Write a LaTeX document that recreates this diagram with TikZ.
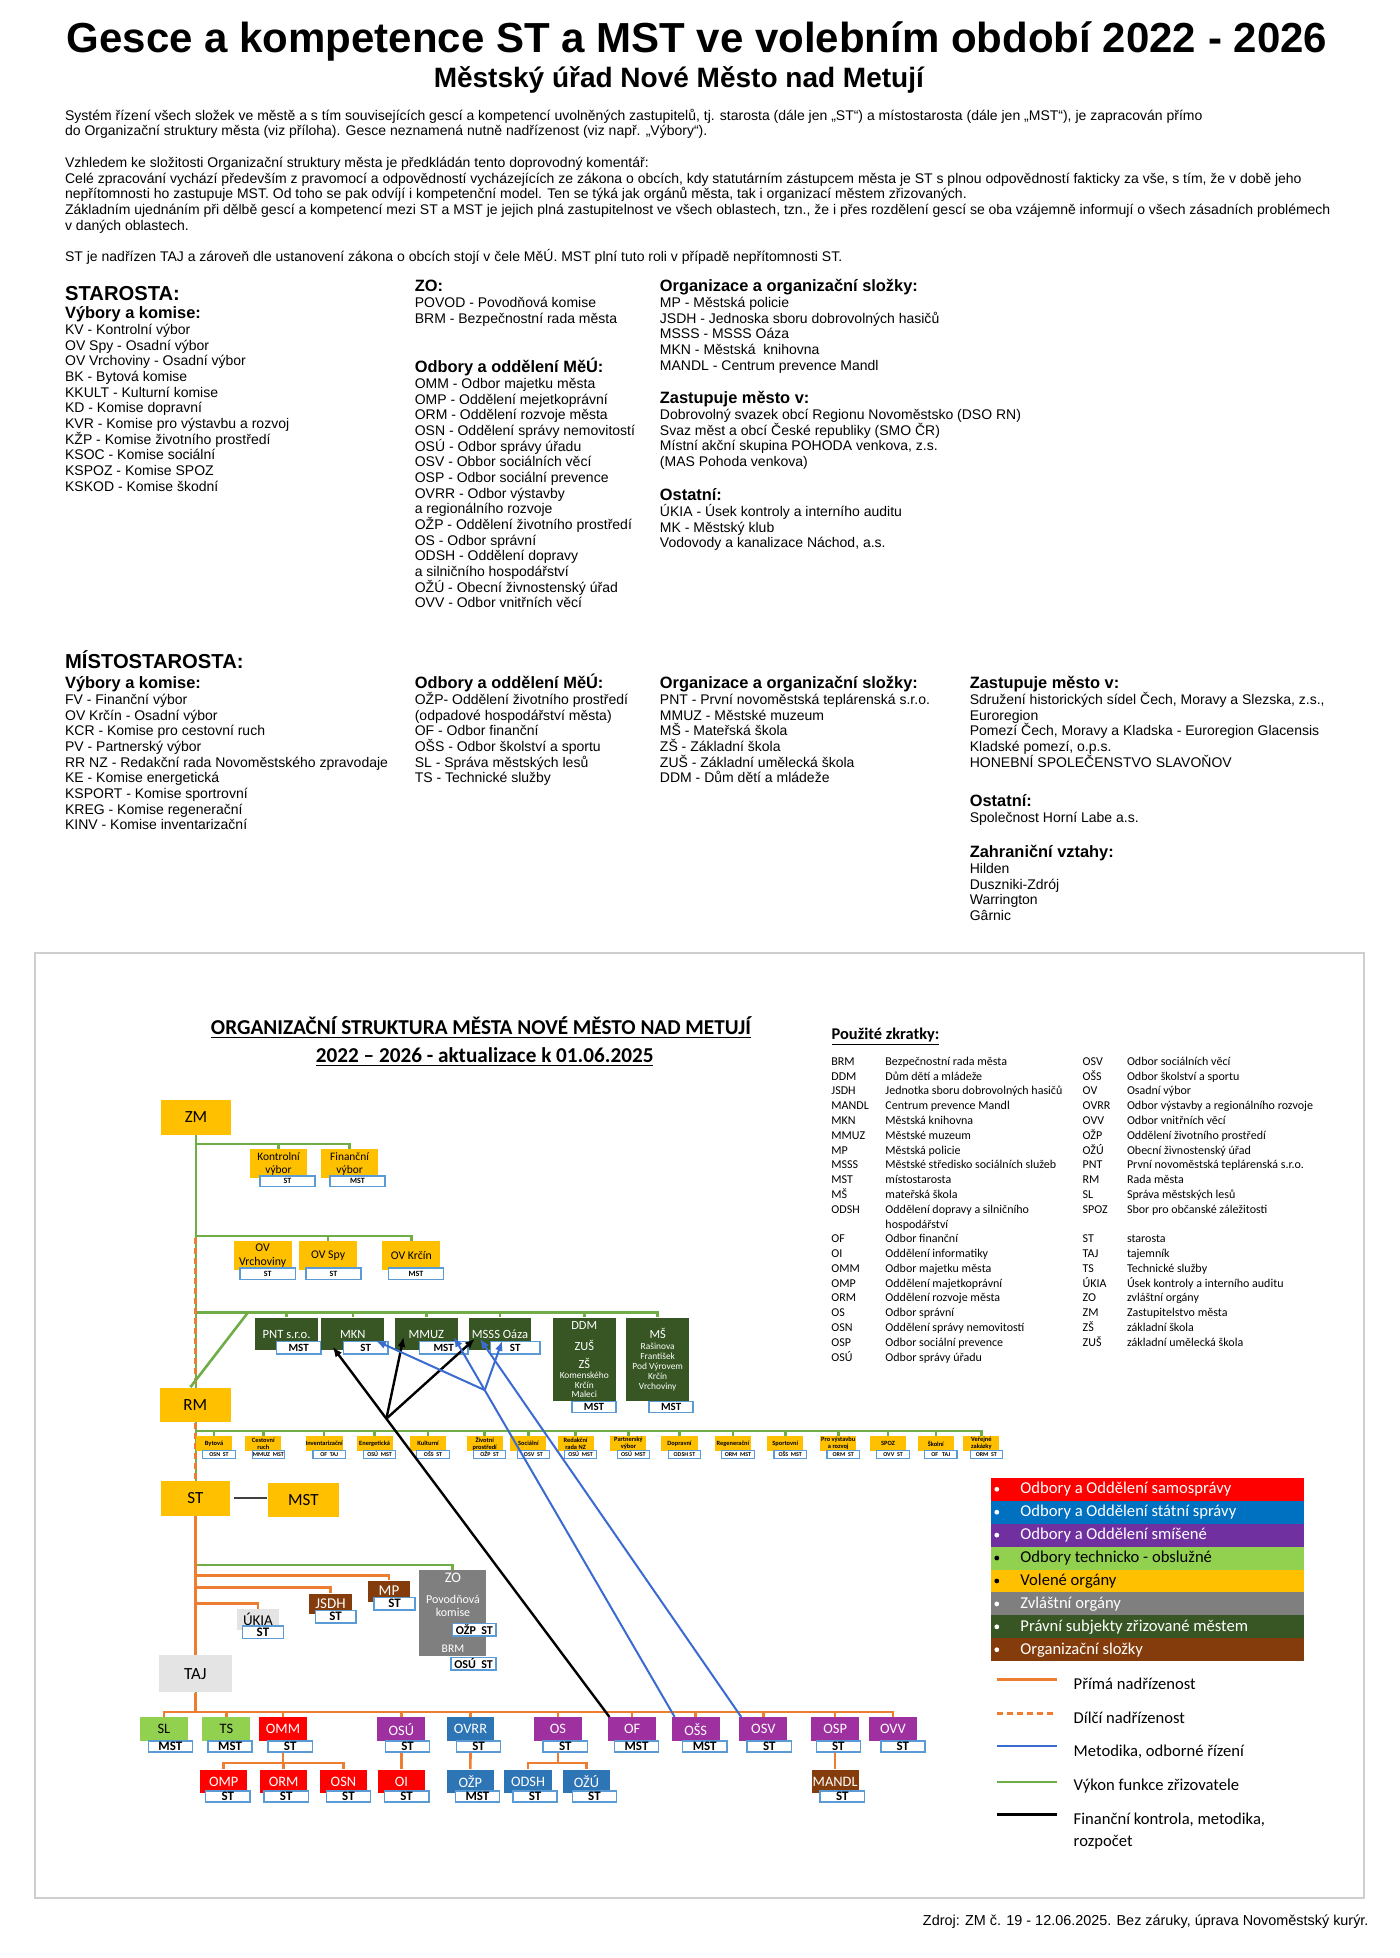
\documentclass[tikz,border=0pt]{standalone}
\usepackage{fontspec}
\setmainfont{Liberation Sans}
\newfontfamily\calib{Carlito}
\usetikzlibrary{arrows.meta,calc}
\pgfdeclarelayer{pozadi}
\pgfsetlayers{pozadi,main}
\newlength{\pxl}
\setlength{\pxl}{0.6222pt}
\definecolor{zlta}{HTML}{FFC000}
\definecolor{cervena}{HTML}{FF0000}
\definecolor{modra}{HTML}{0070C0}
\definecolor{modrab}{HTML}{2E75B6}
\definecolor{fialova}{HTML}{7030A0}
\definecolor{fialovab}{HTML}{9E30A0}
\definecolor{svzel}{HTML}{92D050}
\definecolor{seda}{HTML}{7F7F7F}
\definecolor{tmzel}{HTML}{375623}
\definecolor{hneda}{HTML}{843C0C}
\definecolor{svseda}{HTML}{E4E4E4}
\definecolor{linor}{HTML}{ED7D31}
\definecolor{linmod}{HTML}{3A6BD0}
\definecolor{linzel}{HTML}{70AD47}
\definecolor{ramec}{HTML}{5B9BD5}
\definecolor{okraj}{HTML}{CFCFCF}
\tikzset{
  tx/.style={anchor=base west, inner sep=0pt, font=\fontsize{7}{8}\selectfont},
  hd/.style={anchor=base west, inner sep=0pt, font=\fontsize{8.2}{9}\selectfont\bfseries},
  cf/.style 2 args={font=\calib\fontsize{#1}{#2}\selectfont},
  cfb/.style 2 args={font=\calib\bfseries\fontsize{#1}{#2}\selectfont},
  box/.style={fill=#1, inner sep=0pt, align=center},
  sz/.style 2 args={minimum width=#1\pxl, minimum height=#2\pxl},
  stamp/.style={draw=ramec, fill=white, line width=0.75pt, inner sep=0pt, cfb={6.5}{7}},
  zk/.style={anchor=base west, inner sep=0pt, cf={6}{7}},
  grn/.style={draw=linzel, line width=1.3pt},
  ora/.style={draw=linor, line width=1.3pt},
  ldash/.style={dash pattern=on 3pt off 2pt},
  dil/.style={ora, ldash},
  met/.style={draw=linmod, line width=1pt, -{Latex[length=5pt,width=4pt]}},
  fin/.style={draw=black, line width=1.2pt, -{Latex[length=5pt,width=4pt]}},
}
\begin{document}
\begin{tikzpicture}[x=0.6222pt, y=-0.6222pt]
\begin{pgfonlayer}{pozadi}
  \fill[white] (0,0) rectangle (1125,1573.4);
\end{pgfonlayer}
\useasboundingbox (0,0) rectangle (1125,1573.4);

% nadpis a komentar
\node[anchor=base, inner sep=0pt, font=\fontsize{21}{24}\selectfont\bfseries] (nadpis) at (560,42) {Gesce a kompetence ST a MST ve volebním období 2022 - 2026};
\node[anchor=base, inner sep=0pt, font=\fontsize{14}{16}\selectfont\bfseries] (podnadpis) at (545.5,70) {Městský úřad Nové Město nad Metují};
\foreach \r/\t in {
  0/{Systém řízení všech složek ve městě a s tím souvisejících gescí a kompetencí uvolněných zastupitelů, tj. starosta (dále jen „ST“) a místostarosta (dále jen „MST“), je zapracován přímo},
  1/{do Organizační struktury města (viz příloha). Gesce neznamená nutně nadřízenost (viz např. „Výbory“).},
  3/{Vzhledem ke složitosti Organizační struktury města je předkládán tento doprovodný komentář:},
  4/{Celé zpracování vychází především z pravomocí a odpovědností vycházejících ze zákona o obcích, kdy statutárním zástupcem města je ST s plnou odpovědností fakticky za vše, s tím, že v době jeho},
  5/{nepřítomnosti ho zastupuje MST. Od toho se pak odvíjí i kompetenční model. Ten se týká jak orgánů města, tak i organizací městem zřizovaných.},
  6/{Základním ujednáním při dělbě gescí a kompetencí mezi ST a MST je jejich plná zastupitelnost ve všech oblastech, tzn., že i přes rozdělení gescí se oba vzájemně informují o všech zásadních problémech},
  7/{v daných oblastech.},
  9/{ST je nadřízen TAJ a zároveň dle ustanovení zákona o obcích stojí v čele MěÚ. MST plní tuto roli v případě nepřítomnosti ST.}}
  \node[tx] (odst\r) at (52,{96.5+\r*12.67}) {\t};

% STAROSTA
\node[anchor=base west, inner sep=0pt, font=\fontsize{10.1}{12}\selectfont\bfseries] (star) at (52,241.5) {STAROSTA:};
\node[hd] (sa) at (52,256.2) {Výbory a komise:};
\foreach \t [count=\i] in {KV - Kontrolní výbor, OV Spy - Osadní výbor, OV Vrchoviny - Osadní výbor, BK - Bytová komise, KKULT - Kulturní komise, KD - Komise dopravní, KVR - Komise pro výstavbu a rozvoj, KŽP - Komise životního prostředí, KSOC - Komise sociální, KSPOZ - Komise SPOZ, KSKOD - Komise škodní}
  \node[tx] (sa\i) at (52,{256.2+\i*12.6}) {\t};
\node[hd] (sb) at (333,234.5) {ZO:};
\foreach \t [count=\i] in {POVOD - Povodňová komise, BRM - Bezpečnostní rada města}
  \node[tx] (sb\i) at (333,{234.5+\i*12.6}) {\t};
\node[hd] (sc) at (333,299.5) {Odbory a oddělení MěÚ:};
\foreach \t [count=\i] in {OMM - Odbor majetku města, OMP - Oddělení mejetkoprávní, ORM - Oddělení rozvoje města, OSN - Oddělení správy nemovitostí, OSÚ - Odbor správy úřadu, OSV - Obbor sociálních věcí, OSP - Odbor sociální prevence, OVRR - Odbor výstavby, a regionálního rozvoje, OŽP - Oddělení životního prostředí, OS - Odbor správní, ODSH - Oddělení dopravy, a silničního hospodářství, OŽÚ - Obecní živnostenský úřad, OVV - Odbor vnitřních věcí}
  \node[tx] (sc\i) at (333,{299.5+\i*12.6}) {\t};
\node[hd] (sd) at (530,234.5) {Organizace a organizační složky:};
\foreach \t [count=\i] in {MP - Městská policie, JSDH - Jednoska sboru dobrovolných hasičů, MSSS - MSSS Oáza, MKN - Městská\ \ knihovna, MANDL - Centrum prevence Mandl}
  \node[tx] (sd\i) at (530,{234.5+\i*12.6}) {\t};
\node[hd] (se) at (530,324.5) {Zastupuje město v:};
\foreach \t [count=\i] in {Dobrovolný svazek obcí Regionu Novoměstsko (DSO RN), Svaz měst a obcí České republiky (SMO ČR), {Místní akční skupina POHODA venkova, z.s.}, (MAS Pohoda venkova)}
  \node[tx] (se\i) at (530,{324.5+\i*12.6}) {\t};
\node[hd] (sf) at (530,402.5) {Ostatní:};
\foreach \t [count=\i] in {ÚKIA - Úsek kontroly a interního auditu, MK - Městský klub, {Vodovody a kanalizace Náchod, a.s.}}
  \node[tx] (sf\i) at (530,{402.5+\i*12.6}) {\t};

% MISTOSTAROSTA
\node[anchor=base west, inner sep=0pt, font=\fontsize{10.1}{12}\selectfont\bfseries] (mist) at (52,537.5) {MÍSTOSTAROSTA:};
\node[hd] (ma) at (52,553.5) {Výbory a komise:};
\foreach \t [count=\i] in {FV - Finanční výbor, OV Krčín - Osadní výbor, KCR - Komise pro cestovní ruch, PV - Partnerský výbor, RR NZ - Redakční rada Novoměstského zpravodaje, KE - Komise energetická, KSPORT - Komise sportrovní, KREG - Komise regenerační, KINV - Komise inventarizační}
  \node[tx] (ma\i) at (52,{553.5+\i*12.6}) {\t};
\node[hd] (mb) at (333,553.5) {Odbory a oddělení MěÚ:};
\foreach \t [count=\i] in {OŽP- Oddělení životního prostředí, (odpadové hospodářství města), OF - Odbor finanční, OŠS - Odbor školství a sportu, SL - Správa městských lesů, TS - Technické služby}
  \node[tx] (mb\i) at (333,{553.5+\i*12.6}) {\t};
\node[hd] (mc) at (530,553.5) {Organizace a organizační složky:};
\foreach \t [count=\i] in {PNT - První novoměstská teplárenská s.r.o., MMUZ - Městské muzeum, MŠ - Mateřská škola, ZŠ - Základní škola, ZUŠ - Základní umělecká škola, DDM - Dům dětí a mládeže}
  \node[tx] (mc\i) at (530,{553.5+\i*12.6}) {\t};
\node[hd] (md) at (779,553.5) {Zastupuje město v:};
\foreach \t [count=\i] in {{Sdružení historických sídel Čech, Moravy a Slezska, z.s.,}, Euroregion, {Pomezí Čech, Moravy a Kladska - Euroregion Glacensis}, {Kladské pomezí, o.p.s.}, HONEBNÍ SPOLEČENSTVO SLAVOŇOV}
  \node[tx] (md\i) at (779,{553.5+\i*12.6}) {\t};
\node[hd] (me) at (779,648.2) {Ostatní:};
\node[tx] (me1) at (779,660.8) {Společnost Horní Labe a.s.};
\node[hd] (mf) at (779,689.2) {Zahraniční vztahy:};
\foreach \t [count=\i] in {Hilden, Duszniki-Zdrój, Warrington, Gârnic}
  \node[tx] (mf\i) at (779,{689.2+\i*12.6}) {\t};

% ramecek schematu
\draw[okraj, line width=0.8pt] (28,766) rectangle (1096,1525);
\node[anchor=base, inner sep=0pt, cfb={10.6}{12}] (org1) at (386.5,831.5) {\underline{ORGANIZAČNÍ STRUKTURA MĚSTA NOVÉ MĚSTO NAD METUJÍ}};
\node[anchor=base, inner sep=0pt, cfb={10.6}{12}] (org2) at (389.5,853.5) {\underline{2022 – 2026 - aktualizace k 01.06.2025}};

% zkratky
\node[anchor=base west, inner sep=0pt, cfb={8.2}{9}] (zkr) at (668,835) {\underline{Použité zkratky:}};
\foreach \r/\a/\b in {0/BRM/Bezpečnostní rada města, 1/DDM/Dům dětí a mládeže, 2/JSDH/Jednotka sboru dobrovolných hasičů, 3/MANDL/Centrum prevence Mandl, 4/MKN/Městská knihovna, 5/MMUZ/Městské muzeum, 6/MP/Městská policie, 7/MSSS/Městské středisko sociálních služeb, 8/MST/místostarosta, 9/MŠ/mateřská škola, 10/ODSH/Oddělení dopravy a silničního, 12/OF/Odbor finanční, 13/OI/Oddělení informatiky, 14/OMM/Odbor majetku města, 15/OMP/Oddělení majetkoprávní, 16/ORM/Oddělení rozvoje města, 17/OS/Odbor správní, 18/OSN/Oddělení správy nemovitostí, 19/OSP/Odbor sociální prevence, 20/OSÚ/Odbor správy úřadu} {
  \node[zk] (zka\r) at (667.8,{856+\r*11.89}) {\a};
  \node[zk] (zkb\r) at (711.2,{856+\r*11.89}) {\b};
}
\node[zk] (zkb11) at (711.2,{856+11*11.89}) {hospodářství};
\foreach \r/\a/\b in {0/OSV/Odbor sociálních věcí, 1/OŠS/Odbor školství a sportu, 2/OV/Osadní výbor, 3/OVRR/Odbor výstavby a regionálního rozvoje, 4/OVV/Odbor vnitřních věcí, 5/OŽP/Oddělení životního prostředí, 6/OŽÚ/Obecní živnostenský úřad, 7/PNT/První novoměstská teplárenská s.r.o., 8/RM/Rada města, 9/SL/Správa městských lesů, 10/SPOZ/Sbor pro občanské záležitosti, 12/ST/starosta, 13/TAJ/tajemník, 14/TS/Technické služby, 15/ÚKIA/Úsek kontroly a interního auditu, 16/ZO/zvláštní orgány, 17/ZM/Zastupitelstvo města, 18/ZŠ/základní škola, 19/ZUŠ/základní umělecká škola} {
  \node[zk] (zkc\r) at (869.7,{856+\r*11.89}) {\a};
  \node[zk] (zkd\r) at (905.3,{856+\r*11.89}) {\b};
}

% zastupitelstvo a vybory
\node[box=zlta, sz={56}{28}, cf={8.5}{10}] (zm) at (157.5,898) {ZM};
\node[box=zlta, sz={46}{23.4}, cf={5.7}{6.6}] (kv) at (223.8,935.3) {Kontrolní\\výbor};
\node[stamp, sz={44}{8.4}, cfb={4}{4}] (kvb) at (231,949.2) {ST};
\node[box=zlta, sz={46}{23.4}, cf={5.7}{6.6}] (fv) at (280.9,935.3) {Finanční\\výbor};
\node[stamp, sz={44}{8.4}, cfb={4}{4}] (fvb) at (287.2,949.2) {MST};
\node[box=zlta, sz={46.6}{23}, cf={5.9}{6.6}] (ovv) at (211,1009) {OV\\Vrchoviny};
\node[stamp, sz={44.4}{9}, cfb={4}{4}] (ovvb) at (215.2,1023.5) {ST};
\node[box=zlta, sz={46.6}{23}, cf={5.9}{6.6}] (ovs) at (263.7,1009) {OV Spy};
\node[stamp, sz={44.4}{9}, cfb={4}{4}] (ovsb) at (268,1023.5) {ST};
\node[box=zlta, sz={46.6}{23}, cf={5.9}{6.6}] (ovk) at (330.5,1009) {OV Krčín};
\node[stamp, sz={44.4}{9}, cfb={4}{4}] (ovkb) at (334.3,1023.5) {MST};

% pravni subjekty
\foreach \n/\t/\x/\b/\bx/\bw in {pnt/PNT s.r.o./230.3/MST/240/36, mkn/MKN/283.5/ST/293.9/35.7, mmuz/MMUZ/342.6/MST/356.5/39, msss/MSSS Oáza/401.8/ST/414/40} {
  \node[box=tmzel, text=white, sz={50.5}{26}, cf={6.3}{7}] (\n) at (\x,1072) {\t};
  \node[stamp, sz={\bw}{10}, cfb={5.5}{6}] (\n b) at (\bx,1083) {\b};
}
\node[box=tmzel, sz={51}{67}] (ddm) at (469.5,1092.5) {};
\foreach \t/\y/\s [count=\i] in {DDM/1064.8/6.2, ZUŠ/1081/6.2, ZŠ/1095.5/6.2, Komenského/1105/4.7, Krčín/1113/4.7, Maleci/1120.5/4.7}
  \node[text=white, inner sep=0pt, cf={\s}{\s}] (ddmt\i) at (469.5,\y) {\t};
\node[stamp, sz={35.5}{9}, cfb={5.5}{6}] (ddmb) at (477.3,1130.5) {MST};
\node[box=tmzel, sz={51}{67}] (msk) at (528.5,1092.5) {};
\foreach \t/\y/\s [count=\i] in {MŠ/1071.5/6.2, Rašinova/1081.6/4.7, František/1090.2/4.7, Pod Výrovem/1098.2/4.7, Krčín/1106.3/4.7, Vrchoviny/1114.3/4.7}
  \node[text=white, inner sep=0pt, cf={\s}{\s}] (mskt\i) at (528.5,\y) {\t};
\node[stamp, sz={35.5}{9}, cfb={5.5}{6}] (mskb) at (539.3,1130.5) {MST};

% rada a komise
\node[box=zlta, sz={57}{28}, cf={8.5}{10}] (rm) at (157,1129) {RM};
\foreach \x/\t/\b [count=\i] in {172/Bytová/OSN\ \ ST, 211.6/Cestovní\\ruch/MMUZ\ \ MST, 260.5/Inventarizační/OF\ \ TAJ, 301/Energetická/OSÚ\ \ MST, 344/Kulturní/OŠS\ \ ST, 389.5/Životní\\prostředí/OŽP\ \ ST, 424.6/Sociální/OSV\ \ ST, 462.5/Redakční\\rada NZ/OSÚ\ \ MST, 505/Partnerský\\výbor/OSÚ\ \ MST, 546/Dopravní/ODSH ST, 589/Regenerační/ORM\ \ MST, 631/Sportovní/OŠS\ \ MST, 673.6/Pro výstavbu\\a rozvoj/ORM\ \ ST, 713.6/SPOZ/OVV\ \ ST, 752/Školní/OF\ \ \ TAJ, 788.6/Veřejné\\zakázky/ORM\ \ ST} {
  \node[box=zlta, sz={29}{12}, cfb={3.2}{3.4}] (kom\i) at (\x,1160) {\t};
  \node[stamp, sz={26}{6.5}, line width=0.6pt, cfb={3}{3}] (kom\i b) at (\x+4,1168.7) {\b};
}

% starosta, mistostarosta, tajemnik
\node[box=zlta, sz={56}{28}, cf={8.5}{10}] (st) at (157,1204) {ST};
\node[box=zlta, sz={57}{27}, cf={8.5}{10}] (mst) at (243.7,1205.4) {MST};
\node[box=svseda, sz={58.7}{30}, cf={8.5}{10}] (taj) at (157,1345) {TAJ};
\node[box=svseda, sz={34.5}{16.8}, cf={7.5}{8}] (ukia) at (207.3,1301.4) {ÚKIA};
\node[stamp, sz={32.7}{10}] (ukiab) at (211.3,1311.7) {ST};
\node[box=hneda, text=white, sz={34}{16.6}, cf={7.5}{8}] (jsdh) at (265.6,1288.8) {JSDH};
\node[stamp, sz={32.6}{10}] (jsdhb) at (269.7,1299) {ST};
\node[box=hneda, text=white, sz={34.3}{17}, cf={7.5}{8}] (mp) at (312.6,1278.6) {MP};
\node[stamp, sz={33}{10}] (mpb) at (317,1288.7) {ST};
\node[box=seda, sz={53.3}{69.2}] (zo) at (363.7,1296.2) {};
\node[text=white, inner sep=0pt, cf={7.3}{8}] (zot1) at (364,1267.6) {ZO};
\node[text=white, inner sep=0pt, align=center, cf={6}{6.4}] (zot2) at (364,1290.3) {Povodňová\\komise};
\node[text=white, inner sep=0pt, cf={5.8}{6}] (zot3) at (364,1325) {BRM};
\node[stamp, sz={35}{10}, cfb={6}{6}] (zob1) at (381.2,1309.5) {OŽP\ \ ST};
\node[stamp, sz={36}{10}, cfb={6}{6}] (zob2) at (380.6,1337) {OSÚ\ \ ST};

% odbory
\foreach \n/\t/\c/\tc/\x/\b/\bx in {sl/SL/svzel/black/131.7/MST/136.9, ts/TS/svzel/black/181.9/MST/184.9, omm/OMM/cervena/white/227.4/ST/233.2, osu/OSÚ/fialovab/white/322.5/ST/327.5, ovrr/OVRR/modrab/white/378.1/ST/384.6, os/OS/fialovab/white/448.3/ST/454.2, of/OF/fialovab/white/508/MST/511.5, oss/OŠS/fialovab/white/559/MST/566.3, osv/OSV/fialovab/white/613.4/ST/618.2, osp/OSP/fialovab/white/671.1/ST/673.7, ovv/OVV/fialovab/white/717.6/ST/725.5} {
  \node[box=\c, text=\tc, sz={38.5}{19}, cf={7.2}{8}] (\n) at (\x,1389.5) {\t};
  \node[stamp, sz={35.5}{9}] (\n b) at (\bx,1403.5) {\b};
}
\foreach \n/\t/\c/\x/\b/\bx in {omp/OMP/cervena/179.8/ST/183, orm/ORM/cervena/227.9/ST/230, osn/OSN/cervena/276/ST/280, oi/OI/cervena/322.5/ST/326.8, ozp/OŽP/modrab/378/MST/383.7, odsh/ODSH/modrab/424.3/ST/429.9, ozu/OŽÚ/modrab/471.3/ST/477.7, mandl/MANDL/hneda/671.1/ST/676.8} {
  \node[box=\c, text=white, sz={38}{19}, cf={7.2}{8}] (\n) at (\x,1431.5) {\t};
  \node[stamp, sz={35.5}{9}] (\n b) at (\bx,1443.5) {\b};
}

% spojnice
\begin{pgfonlayer}{pozadi}
  \foreach \n in {kv,fv,ovv,ovs,ovk,pnt,mkn,mmuz,msss,ddm,msk}
    \draw[grn] (\n.north) -- ++(0,-4) -| (zm.south);
  \coordinate (carka) at (157,995);
  \draw[dil] (carka) -- (rm.north);
  \draw[dil] (rm.south) -- (st.north);
  \coordinate (sikmo) at (199,1055);
  \draw[grn] (sikmo) -- ([xshift=-4\pxl]rm.north);
  \coordinate (koml) at (157,1150);
  \foreach \i in {1,...,16}
    \draw[grn] (koml) -| (kom\i.north);
  \draw[draw=black!75, line width=1pt, shorten <=3\pxl] (st.east) -- (st.east -| mst.west);
  \draw[ora] (st.south) -- (taj.north);
  \draw[grn] (zo.north) -- ++(0,-3.7) -| (st.south);
  \foreach \n/\d in {mp/3.8, jsdh/4.5, ukia/4}
    \draw[ora] (\n.north) -- ++(0,-\d) -| (st.south);
  \foreach \n in {sl,ts,omm,osu,ovrr,os,of,oss,osv,osp,ovv}
    \draw[ora] (\n.north) -- ++(0,-4) -| (taj.south);
  \foreach \n in {omp,orm,osn}
    \draw[ora] (\n.north) -- ++(0,-5) -| (omm.south);
  \foreach \n in {odsh,ozu}
    \draw[ora] (\n.north) -- ++(0,-5) -| (os.south);
  \draw[ora] (oi.north) -- (osu.south);
  \draw[ora] (ozp.north) -- (ovrr.south);
  \draw[ora] (mandl.north) -- (osp.south);
\end{pgfonlayer}

% financni kontrola a metodika
\coordinate (ofc) at ([xshift=1.3\pxl]of.north west);
\coordinate (mkntip) at ($(mkn.south west)+(9.4,-3)$);
\coordinate (fbod) at ($(ofc)!0.806!(mkntip)$);
\draw[fin] (ofc) -- (mkntip);
\draw[fin] (fbod) -- ($(mmuz.south west)+(7.3,-11)$);
\draw[fin] (fbod) -- ($(msss.south west)+(5.4,-9.5)$);
\coordinate (ossc) at ([xshift=2.7\pxl]oss.north west);
\coordinate (mmuztip) at ($(mmuz.south east)+(-3.5,-11)$);
\coordinate (mbod) at ($(ossc)!0.86!(mmuztip)$);
\draw[met] (ossc) -- (mmuztip);
\draw[met] (mbod) -- ($(mknb.north east)+(-10.3,0)$);
\draw[met] (mbod) -- ($(msssb.north west)+(10.2,0)$);
\draw[met] ([xshift=1.8\pxl]osv.north west) -- ($(msss.south west)+(9.4,-9.5)$);

% legenda
\foreach \c/\t/\tc [count=\i] in {cervena/Odbory a Oddělení samosprávy/white, modra/Odbory a Oddělení státní správy/white, fialova/Odbory a Oddělení smíšené/white, svzel/Odbory technicko - obslužné/black, zlta/Volené orgány/black, seda/Zvláštní orgány/white, tmzel/Právní subjekty zřizované městem/white, hneda/Organizační složky/white} {
  \node[box=\c, sz={251.2}{18.42}, anchor=north west] (leg\i) at (796.1,{1187.2+(\i-1)*18.42}) {};
  \fill[\tc] ($(leg\i.west)+(4.9,0)$) circle (1.2pt);
  \node[anchor=west, inner sep=0pt, text=\tc, cf={8.3}{9}] (legt\i) at ($(leg\i.west)+(23.6,0)$) {\t};
}
\foreach \y/\c/\d in {1349.5/linor/solid, 1376.8/linor/ldash, 1403/linmod/solid, 1431.8/linzel/solid, 1458/black/solid}
  \draw[\c, \d, line width=1.3pt] (801,\y) -- (849,\y);
\foreach \y/\t [count=\i] in {1352.7/Přímá nadřízenost, 1380.3/Dílčí nadřízenost, 1407.6/{Metodika, odborné řízení}, 1435.3/Výkon funkce zřizovatele, 1462.6/{Finanční kontrola, metodika,}, 1480/rozpočet}
  \node[anchor=west, inner sep=0pt, cf={8.3}{9}] (legc\i) at (862.5,\y) {\t};

\node[anchor=base east, inner sep=0pt, font=\fontsize{7.2}{8}\selectfont] (zdroj) at (1100,1547) {Zdroj: ZM č. 19 - 12.06.2025. Bez záruky, úprava Novoměstský kurýr.};
\end{tikzpicture}
\end{document}
